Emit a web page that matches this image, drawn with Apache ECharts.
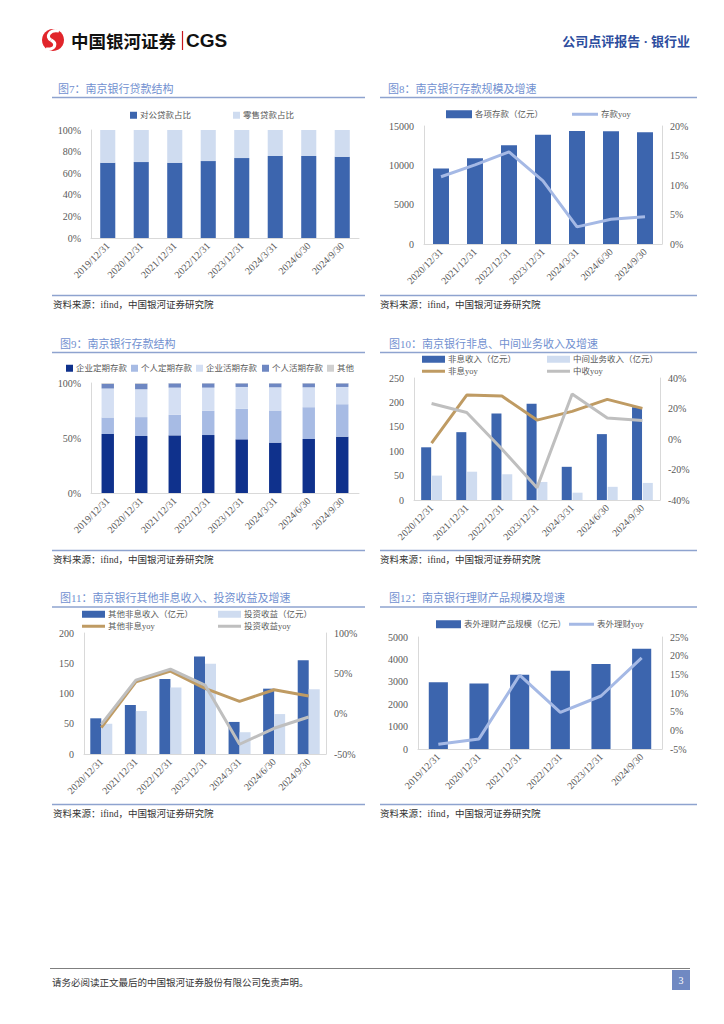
<!DOCTYPE html>
<html>
<head>
<meta charset="utf-8">
<script src="https://cdn.jsdelivr.net/npm/echarts@6.0.0/dist/echarts.min.js"></script>
<style>
html,body{margin:0;padding:0;background:#fff;}
#page{width:724px;height:1024px;}
</style>
</head>
<body>
<div id="page"></div>
<script>
// ---------- data ----------
const datesA = ['2019/12/31','2020/12/31','2021/12/31','2022/12/31','2023/12/31','2024/3/31','2024/6/30','2024/9/30'];
const datesB = ['2020/12/31','2021/12/31','2022/12/31','2023/12/31','2024/3/31','2024/6/30','2024/9/30'];
const datesC = ['2019/12/31','2020/12/31','2021/12/31','2022/12/31','2023/12/31','2024/9/30'];

// Fig 7 loan structure (%)
const corpLoanShare   = [69.7,70.3,69.7,71.2,74.0,75.9,75.9,75.2];
const retailLoanShare = [30.3,29.7,30.3,28.8,26.0,24.1,24.1,24.8];

// Fig 8 deposits (亿元) and yoy (%)
const deposits   = [9590,10900,12550,13900,14370,14320,14200];
const depositYoy = [11.4,13.4,15.6,10.7,2.9,4.2,4.6];

// Fig 9 deposit structure (%)
const corpTimeDep     = [53.6,51.8,52.4,52.7,48.8,45.8,49.1,51.2];
const personalTimeDep = [15.1,17.2,18.7,22.0,27.7,29.2,28.9,29.5];
const corpDemandDep   = [26.2,25.3,24.7,21.1,19.9,21.1,18.1,15.7];
const personalDemandDep = [4.5,5.1,3.9,3.9,3.3,3.6,3.6,3.3];
const otherDep        = [0.6,0.6,0.3,0.3,0.3,0.3,0.3,0.3];

// Fig 10 non-interest income, fee income (亿元) and yoy (%)
const nonInterestIncome = [108,139,177,197,68,135,190];
const feeIncome         = [50,58,53,37,15,27,35];
const nonInterestYoy    = [-2.7,28.8,28.2,12.4,18.1,26.0,20.1];
const feeIncomeYoy      = [23.3,17.4,-6.6,-31.9,29.5,13.7,12.2];

// Fig 11 other non-interest income, investment income (亿元) and yoy (%)
const otherNonInterest    = [59,81,124,161,53,108,155];
const investIncome        = [50,71,110,149,36,66,107];
const otherNonInterestYoy = [-17.3,39.6,52.8,31.3,15.3,29.7,21.8];
const investIncomeYoy     = [-13.2,41.6,55.2,35.4,-37.9,-18.1,-4.1];

// Fig 12 off-balance wealth management (亿元) and yoy (%)
const wealthScale = [2980,2920,3320,3490,3800,4480];
const wealthYoy   = [-3.7,-2.3,14.8,4.8,9.2,19.4];

// ---------- styles ----------
const FONT = "'Liberation Serif','Noto Sans CJK SC'";
const LBL = '#595959';
const AXC = '#d9d9d9';
const DARK = '#3c65ae';
const LIGHT = '#cfdcf0';
const YOYBLUE = '#a5b9e5';
const GOLD = '#bf9b63';
const GREY = '#bfbfbf';
const TITLEC = '#7190d0';
const RULEC = '#8ea3cf';

function xAx(gi, data){
  return {type:'category', gridIndex:gi, data:data,
    axisLine:{show:true, lineStyle:{color:AXC, width:1}},
    axisTick:{show:false},
    axisLabel:{rotate:45, fontSize:10, color:LBL, fontFamily:FONT, margin:6, interval:0},
    splitLine:{show:false}};
}
function yAx(gi, min, max, itv, pos, pct, showLine){
  return {type:'value', gridIndex:gi, min:min, max:max, interval:itv, position:pos,
    axisLine:{show:showLine, lineStyle:{color:AXC, width:1}},
    axisTick:{show:false},
    splitLine:{show:false},
    axisLabel:{fontSize:10, color:LBL, fontFamily:FONT, margin:pos==='right'?8:10,
      formatter: pct ? (v => String(v) + '%') : (v => String(v))}};
}
function lg(name, left, cy, w, h, icon){
  const o = {show:true, data:[name], left:left, top:cy-6, padding:0, itemGap:0,
    itemWidth:w, itemHeight:h, selectedMode:false, icon:icon||'rect',
    textStyle:{fontSize:8.5, color:LBL, fontFamily:FONT, padding:[0,0,0,-2]}};
  return o;
}
function txt(x, y, s, size, color, extra){
  return Object.assign({type:'text', x:x, y:y, silent:true,
    style:{text:s, fontSize:size, fontFamily:FONT, fill:color, verticalAlign:'middle', align:'left'}}, extra||{});
}
function ln(x1,y1,x2,y2,color,w){
  return {type:'line', silent:true, shape:{x1:x1,y1:y1,x2:x2,y2:y2}, style:{stroke:color, lineWidth:w}};
}

const grids = [
  {left:91,  top:130, width:268, height:108},
  {left:424, top:126, width:238, height:118},
  {left:91,  top:383, width:268, height:110},
  {left:414, top:378, width:246, height:122},
  {left:84,  top:633, width:242, height:121},
  {left:418, top:637, width:244, height:112}
].map(g => Object.assign(g, {containLabel:false, outerBoundsMode:'none'}));

const xAxes = [xAx(0,datesA), xAx(1,datesB), xAx(2,datesA), xAx(3,datesB), xAx(4,datesB), xAx(5,datesC)];
const yAxes = [
  yAx(0,0,100,20,'left',true,true),
  yAx(1,0,15000,5000,'left',false,true),
  yAx(1,0,20,5,'right',true,true),
  yAx(2,0,100,50,'left',true,true),
  yAx(3,0,250,50,'left',false,true),
  yAx(3,-40,40,20,'right',true,true),
  yAx(4,0,200,50,'left',false,true),
  yAx(4,-50,100,50,'right',true,true),
  yAx(5,0,5000,1000,'left',false,true),
  yAx(5,-5,25,5,'right',true,true)
];

function bar(name, xi, yi, data, color, extra){
  return Object.assign({type:'bar', name:name, xAxisIndex:xi, yAxisIndex:yi, data:data,
    itemStyle:{color:color}, silent:true, animation:false}, extra||{});
}
function line(name, xi, yi, data, color){
  return {type:'line', name:name, xAxisIndex:xi, yAxisIndex:yi, data:data, symbol:'none', showSymbol:false,
    lineStyle:{color:color, width:3}, itemStyle:{color:color}, silent:true, animation:false};
}

const series = [
  bar('对公贷款占比',0,0,corpLoanShare,DARK,{stack:'a',barWidth:'45%'}),
  bar('零售贷款占比',0,0,retailLoanShare,LIGHT,{stack:'a',barWidth:'45%'}),

  bar('各项存款（亿元）',1,1,deposits,DARK,{barWidth:'47%'}),
  line('存款yoy',1,2,depositYoy,YOYBLUE),

  bar('企业定期存款',2,3,corpTimeDep,'#0f318c',{stack:'b',barWidth:'37%'}),
  bar('个人定期存款',2,3,personalTimeDep,'#a7bbe4',{stack:'b',barWidth:'37%'}),
  bar('企业活期存款',2,3,corpDemandDep,'#d4dff3',{stack:'b',barWidth:'37%'}),
  bar('个人活期存款',2,3,personalDemandDep,'#6e87c2',{stack:'b',barWidth:'37%'}),
  bar('其他',2,3,otherDep,'#d0d0d0',{stack:'b',barWidth:'37%'}),

  bar('非息收入（亿元）',3,4,nonInterestIncome,DARK,{barWidth:10,barGap:'8%'}),
  bar('中间业务收入（亿元）',3,4,feeIncome,LIGHT,{barWidth:10,barGap:'8%'}),
  line('非息yoy',3,5,nonInterestYoy,GOLD),
  line('中收yoy',3,5,feeIncomeYoy,GREY),

  bar('其他非息收入（亿元）',4,6,otherNonInterest,DARK,{barWidth:11,barGap:'0%'}),
  bar('投资收益（亿元）',4,6,investIncome,LIGHT,{barWidth:11,barGap:'0%'}),
  line('其他非息yoy',4,7,otherNonInterestYoy,GOLD),
  line('投资收益yoy',4,7,investIncomeYoy,GREY),

  bar('表外理财产品规模（亿元）',5,8,wealthScale,DARK,{barWidth:'47%'}),
  line('表外理财yoy',5,9,wealthYoy,YOYBLUE)
];

const legends = [
  lg('对公贷款占比',130,117,7,7),
  lg('零售贷款占比',233,117,7,7),
  lg('各项存款（亿元）',446,116,26,8),
  lg('存款yoy',572,116,26,3),
  lg('企业定期存款',66,370,7,7),
  lg('个人定期存款',131,370,7,7),
  lg('企业活期存款',196,370,7,7),
  lg('个人活期存款',262,370,7,7),
  lg('其他',327,370,7,7),
  lg('非息收入（亿元）',422,361,23,7),
  lg('中间业务收入（亿元）',547,361,23,7),
  lg('非息yoy',422,373,23,3),
  lg('中收yoy',547,373,23,3),
  lg('其他非息收入（亿元）',82,616,23,7),
  lg('投资收益（亿元）',218,616,23,7),
  lg('其他非息yoy',82,628,23,3),
  lg('投资收益yoy',218,628,23,3),
  lg('表外理财产品规模（亿元）',436,626,25,8),
  lg('表外理财yoy',569,626,25,3)
];

const SRC = '资料来源：ifind，中国银河证券研究院';
const graphics = [
  // header logo
  {type:'circle', silent:true, shape:{cx:53, cy:40, r:11}, style:{fill:'#e1252b'}},
  {type:'bezierCurve', silent:true, shape:{x1:59,y1:31,cpx1:50,cpy1:29,cpx2:45,cpy2:37,x2:51,y2:40},
    style:{fill:null, stroke:'#fff', lineWidth:3.2}},
  {type:'bezierCurve', silent:true, shape:{x1:51,y1:40,cpx1:57,cpy1:43,cpx2:56,cpy2:50,x2:46,y2:49},
    style:{fill:null, stroke:'#fff', lineWidth:3.2}},
  txt(71, 40, '中国银河证券', 17.5, '#111', {style:{text:'中国银河证券', fontSize:17.5, fontWeight:'bold', fontFamily:"'Noto Sans CJK SC'", fill:'#111', verticalAlign:'middle'}}),
  ln(182.5,31,182.5,50,'#c8161d',1.2),
  txt(186, 40.5, 'CGS', 19, '#111', {style:{text:'CGS', fontSize:19, fontWeight:'bold', fontFamily:"'Liberation Sans'", fill:'#111', verticalAlign:'middle'}}),
  txt(690, 41, '公司点评报告 · 银行业', 13, '#2c4d9e', {style:{text:'公司点评报告 · 银行业', fontSize:13, fontWeight:'bold', fontFamily:FONT, fill:'#2c4d9e', verticalAlign:'middle', align:'right'}}),

  // titles
  txt(58, 89, '图7：南京银行贷款结构', 11, TITLEC),
  txt(388, 89, '图8：南京银行存款规模及增速', 11, TITLEC),
  txt(60, 344, '图9：南京银行存款结构', 11, TITLEC),
  txt(389, 344, '图10：南京银行非息、中间业务收入及增速', 11, TITLEC),
  txt(60, 598, '图11：南京银行其他非息收入、投资收益及增速', 11, TITLEC),
  txt(389, 598, '图12：南京银行理财产品规模及增速', 11, TITLEC),
  ln(52,97.5,365,97.5,RULEC,1.5), ln(380,97.5,697,97.5,RULEC,1.5),
  ln(52,352.5,365,352.5,RULEC,1.5), ln(380,352.5,697,352.5,RULEC,1.5),
  ln(52,607,365,607,RULEC,1.5), ln(380,607,697,607,RULEC,1.5),

  // source lines
  ln(52,295.5,365,295.5,RULEC,1.5), ln(380,295.5,697,295.5,RULEC,1.5),
  ln(52,550.5,365,550.5,RULEC,1.5), ln(380,550.5,697,550.5,RULEC,1.5),
  ln(52,804.5,365,804.5,RULEC,1.5), ln(380,804.5,697,804.5,RULEC,1.5),
  txt(53, 305, SRC, 9.5, '#333'), txt(380, 305, SRC, 9.5, '#333'),
  txt(53, 560, SRC, 9.5, '#333'), txt(380, 560, SRC, 9.5, '#333'),
  txt(53, 814, SRC, 9.5, '#333'), txt(380, 814, SRC, 9.5, '#333'),

  // footer
  ln(50,968.5,690,968.5,'#7f7f7f',1),
  txt(52, 983, '请务必阅读正文最后的中国银河证券股份有限公司免责声明。', 9.5, '#333'),
  {type:'rect', silent:true, shape:{x:672, y:970, width:18, height:20}, style:{fill:'#7089c2'}},
  txt(681, 980.5, '3', 10, '#fff', {style:{text:'3', fontSize:10, fontFamily:FONT, fill:'#fff', verticalAlign:'middle', align:'center'}})
];

const chart = echarts.init(document.getElementById('page'), null, {renderer:'svg', width:724, height:1024});
chart.setOption({
  animation:false,
  backgroundColor:'#fff',
  grid: grids,
  xAxis: xAxes,
  yAxis: yAxes,
  legend: legends,
  series: series,
  graphic: graphics
});
</script>
</body>
</html>
